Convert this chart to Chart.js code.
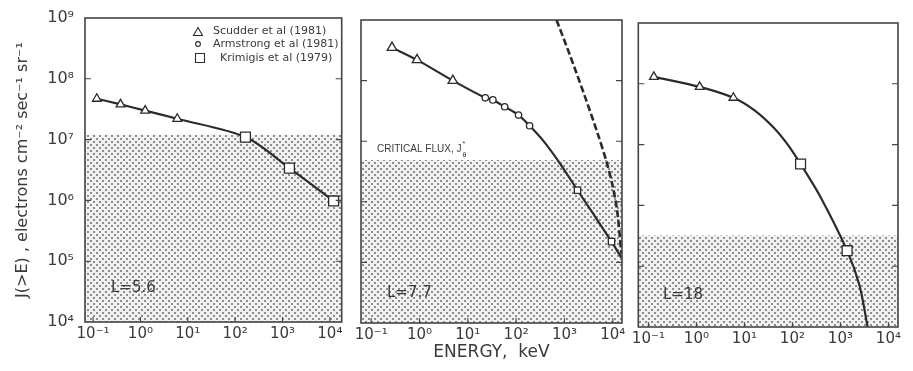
<!DOCTYPE html>
<html>
<head>
<meta charset="utf-8">
<script src="https://cdn.jsdelivr.net/npm/chart.js@4.4.0/dist/chart.umd.min.js"></script>
<style>
  html, body { margin: 0; padding: 0; background: #fff; }
  #wrap { position: relative; width: 913px; height: 371px; }
  canvas { position: absolute; top: 0; }
</style>
</head>
<body>
<div id="wrap">
  <canvas id="p1" width="350" height="371" style="left:0"></canvas>
  <canvas id="p2" width="280" height="371" style="left:350px"></canvas>
  <canvas id="p3" width="283" height="371" style="left:630px"></canvas>
</div>
<script>
"use strict";

// decade ticks, keV and electrons cm-2 sec-1 sr-1
const xTickValues = [0.1, 1, 10, 100, 1000, 10000];
const yTickValues = [1e4, 1e5, 1e6, 1e7, 1e8, 1e9];

// L = 5.6
const p1ScudderE = [0.12, 0.38, 1.26, 6.0];
const p1ScudderJ = [4.7e7, 3.8e7, 3.0e7, 2.2e7];
const p1KrimigisE = [165, 1400, 12000];
const p1KrimigisJ = [1.1e7, 3.4e6, 9.8e5];
const p1CurveE = [0.12, 0.38, 1.26, 6.0, 165, 1400, 12000];
const p1CurveJ = [4.7e7, 3.8e7, 3.0e7, 2.2e7, 1.1e7, 3.4e6, 9.8e5];
const p1Critical = 1.2e7;

// L = 7.7
const p2ScudderE = [0.27, 0.89, 4.9];
const p2ScudderJ = [3.5e8, 2.2e8, 1.0e8];
const p2ArmstrongE = [23, 33, 58, 112, 190];
const p2ArmstrongJ = [5.2e7, 4.8e7, 3.7e7, 2.7e7, 1.8e7];
const p2KrimigisE = [1860, 9400];
const p2KrimigisJ = [1.55e6, 2.2e5];
const p2CurveE = [0.27, 0.89, 4.9, 23, 33, 58, 112, 190, 352, 790, 1860, 3800, 9400, 15000];
const p2CurveJ = [3.5e8, 2.2e8, 1.0e8, 5.2e7, 4.8e7, 3.7e7, 2.7e7, 1.8e7, 1.05e7, 4.4e6, 1.55e6, 6.6e5, 2.2e5, 1.2e5];
const p2DashE = [684, 1260, 2800, 4800, 7400, 9800, 12300, 15000];
const p2DashJ = [1e9, 2.8e8, 4.8e7, 1.38e7, 4.6e6, 1.9e6, 7.1e5, 1.4e5];
const p2Critical = 4.9e6;

// L = 18
const p3ScudderE = [0.13, 1.17, 5.9];
const p3ScudderJ = [1.3e8, 8.9e7, 5.9e7];
const p3KrimigisE = [148, 1380];
const p3KrimigisJ = [4.8e6, 1.8e5];
const p3CurveE = [0.13, 1.17, 5.9, 16, 41, 80, 148, 380, 1380, 2500, 3700];
const p3CurveJ = [1.3e8, 8.9e7, 5.9e7, 3.7e7, 1.9e7, 1.0e7, 4.8e6, 1.4e6, 1.8e5, 4.8e4, 1e4];
const p3Critical = 3.2e5;

const INK = "#2b2b2b";
const TEXT = "#3a3a3a";
const FONT = "'DejaVu Sans', sans-serif";
const SUP = { "-": "\u207B", "0": "\u2070", "1": "\u00B9", "2": "\u00B2", "3": "\u00B3",
              "4": "\u2074", "5": "\u2075", "6": "\u2076", "7": "\u2077", "8": "\u2078", "9": "\u2079" };

function pairs(xs, ys) {
  return xs.map((x, i) => ({ x: x, y: ys[i] }));
}

function decadeLabel(value) {
  let exp = String(Math.round(Math.log10(value)));
  return "10" + exp.split("").map(c => SUP[c]).join("");
}

function stipple() {
  let c = document.createElement("canvas");
  c.width = 6;
  c.height = 6;
  let g = c.getContext("2d");
  g.fillStyle = "#f1f1f1";
  g.fillRect(0, 0, 6, 6);
  g.fillStyle = "#8e8e8e";
  g.fillRect(0, 0, 2, 2);
  g.fillRect(3, 3, 2, 2);
  return g.createPattern(c, "repeat");
}
const DOTS = stipple();

function criticalSet(level, xMin, xMax) {
  return {
    type: "line",
    data: [{ x: xMin, y: level }, { x: xMax, y: level }],
    fill: "start",
    backgroundColor: DOTS,
    borderWidth: 0,
    pointRadius: 0,
    order: 5
  };
}

function curveSet(xs, ys, dash) {
  return {
    type: "line",
    data: pairs(xs, ys),
    borderColor: INK,
    borderWidth: dash ? 2.6 : 2.2,
    borderDash: dash ? [7, 3] : [],
    tension: 0.3,
    pointRadius: 0,
    fill: false,
    order: 3
  };
}

function markerSet(xs, ys, style, radius) {
  return {
    type: "scatter",
    data: pairs(xs, ys),
    pointStyle: style,
    pointRadius: radius,
    pointBackgroundColor: "#fff",
    pointBorderColor: INK,
    pointBorderWidth: 1.3,
    order: 1
  };
}

// frame and inward decade ticks on every side
const framePlugin = {
  id: "frame",
  afterDatasetsDraw(chart) {
    const { ctx, chartArea: a, scales } = chart;
    ctx.save();
    ctx.strokeStyle = "#444";
    ctx.lineWidth = 1.6;
    ctx.strokeRect(a.left, a.top, a.right - a.left, a.bottom - a.top);
    ctx.lineWidth = 1.1;
    ctx.beginPath();
    scales.x.ticks.forEach(t => {
      let px = scales.x.getPixelForValue(t.value);
      ctx.moveTo(px, a.bottom);
      ctx.lineTo(px, a.bottom - 5);
    });
    scales.y.ticks.forEach(t => {
      let py = scales.y.getPixelForValue(t.value);
      if (py <= a.top + 1 || py >= a.bottom - 1) return;
      ctx.moveTo(a.left, py);
      ctx.lineTo(a.left + 6, py);
      ctx.moveTo(a.right, py);
      ctx.lineTo(a.right - 6, py);
    });
    ctx.stroke();
    ctx.restore();
  }
};

// free text inside the panels (canvas pixels)
const notesPlugin = {
  id: "notes",
  afterDraw(chart, args, opts) {
    const ctx = chart.ctx;
    ctx.save();
    ctx.fillStyle = TEXT;
    ctx.textBaseline = "middle";
    ctx.textAlign = "left";
    (opts.items || []).forEach(n => {
      ctx.font = n.font;
      ctx.fillText(n.text, n.x, n.y);
      let end = n.x + ctx.measureText(n.text).width + 1;
      if (n.sup) {
        ctx.font = n.supFont;
        ctx.fillText(n.sup, end, n.y - 5);
      }
      if (n.sub) {
        ctx.font = n.supFont;
        ctx.fillText(n.sub, end, n.y + 6);
      }
    });
    (opts.symbols || []).forEach(s => {
      ctx.beginPath();
      if (s.shape === "triangle") {
        ctx.moveTo(s.x, s.y - 4.5);
        ctx.lineTo(s.x + 4.5, s.y + 3.5);
        ctx.lineTo(s.x - 4.5, s.y + 3.5);
        ctx.closePath();
      } else if (s.shape === "circle") {
        ctx.arc(s.x, s.y, 2.4, 0, Math.PI * 2);
      } else {
        ctx.rect(s.x - 4.5, s.y - 4.5, 9, 9);
      }
      ctx.strokeStyle = INK;
      ctx.lineWidth = 1.1;
      ctx.stroke();
    });
    ctx.restore();
  }
};

function logAxis(min, max, values, opts) {
  return {
    type: "logarithmic",
    position: opts.position,
    min: min,
    max: max,
    afterBuildTicks: s => { s.ticks = values.map(v => ({ value: v })); },
    afterFit: s => {
      if (opts.position === "bottom") s.height = opts.size; else s.width = opts.size;
      s.paddingLeft = 0; s.paddingRight = 0; s.paddingTop = 0; s.paddingBottom = 0;
    },
    grid: { display: false },
    border: { display: false },
    ticks: {
      display: opts.labels,
      autoSkip: false,
      maxRotation: 0,
      padding: opts.tickPad,
      color: TEXT,
      font: { family: FONT, size: opts.fontSize },
      callback: v => decadeLabel(v)
    },
    title: opts.title || { display: false }
  };
}

function makePanel(id, cfg) {
  return new Chart(document.getElementById(id), {
    data: { datasets: cfg.datasets },
    options: {
      responsive: false,
      animation: false,
      layout: { padding: cfg.padding },
      scales: {
        x: logAxis(cfg.xMin, cfg.xMax, xTickValues,
                   { position: "bottom", size: cfg.xHeight, labels: true, tickPad: -5, fontSize: 15, title: cfg.xTitle }),
        y: logAxis(1e4, 1e9, yTickValues,
                   { position: "left", size: cfg.yWidth, labels: cfg.yLabels, tickPad: 3, fontSize: 16, title: cfg.yTitle })
      },
      plugins: {
        legend: { display: false },
        tooltip: { enabled: false },
        notes: { items: cfg.notes, symbols: cfg.symbols || [] }
      }
    },
    plugins: [framePlugin, notesPlugin]
  });
}

const p1xMin = Math.pow(10, -1.17), p1xMax = Math.pow(10, 4.25);
const p2xMin = Math.pow(10, -1.21), p2xMax = Math.pow(10, 4.19);
const p3xMin = Math.pow(10, -1.21), p3xMax = Math.pow(10, 4.2);

makePanel("p1", {
  xMin: p1xMin, xMax: p1xMax,
  padding: { left: 0, top: 18, right: 5, bottom: 0 },
  xHeight: 49, yWidth: 85, yLabels: true,
  yTitle: {
    display: true,
    text: "J(>E) , electrons cm\u207B\u00B2 sec\u207B\u00B9 sr\u207B\u00B9",
    color: TEXT,
    font: { family: FONT, size: 16 },
    padding: { top: 13, bottom: 0 }
  },
  datasets: [
    criticalSet(p1Critical, p1xMin, p1xMax),
    curveSet(p1CurveE, p1CurveJ, false),
    markerSet(p1ScudderE, p1ScudderJ, "triangle", 5),
    markerSet(p1KrimigisE, p1KrimigisJ, "rect", 7)
  ],
  notes: [
    { text: "L=5.6", x: 111, y: 288, font: "15px " + FONT },
    { text: "Scudder et al (1981)", x: 213, y: 31, font: "11px " + FONT },
    { text: "Armstrong et al (1981)", x: 213, y: 44, font: "11px " + FONT },
    { text: "Krimigis et al (1979)", x: 220, y: 58, font: "11px " + FONT }
  ],
  symbols: [
    { shape: "triangle", x: 198, y: 32 },
    { shape: "circle", x: 198, y: 44 },
    { shape: "rect", x: 200, y: 58 }
  ]
});

makePanel("p2", {
  xMin: p2xMin, xMax: p2xMax,
  padding: { left: 11, top: 20, right: 8, bottom: 0 },
  xHeight: 48, yWidth: 0, yLabels: false,
  xTitle: {
    display: true,
    text: "ENERGY,  keV",
    color: TEXT,
    font: { family: FONT, size: 17 },
    padding: { top: 0, bottom: 8 }
  },
  datasets: [
    criticalSet(p2Critical, p2xMin, p2xMax),
    curveSet(p2CurveE, p2CurveJ, false),
    curveSet(p2DashE, p2DashJ, true),
    markerSet(p2ScudderE, p2ScudderJ, "triangle", 5.5),
    markerSet(p2ArmstrongE, p2ArmstrongJ, "circle", 3.2),
    markerSet(p2KrimigisE, p2KrimigisJ, "rect", 4.5)
  ],
  notes: [
    { text: "L=7.7", x: 37, y: 293, font: "15px " + FONT },
    { text: "CRITICAL FLUX, J", x: 27, y: 149, font: "10px 'Liberation Sans', sans-serif",
      sup: "*", sub: "\u03B8", supFont: "7px 'Liberation Sans', sans-serif" }
  ]
});

makePanel("p3", {
  xMin: p3xMin, xMax: p3xMax,
  padding: { left: 6, top: 23, right: 15, bottom: 0 },
  xHeight: 44, yWidth: 0, yLabels: false,
  datasets: [
    criticalSet(p3Critical, p3xMin, p3xMax),
    curveSet(p3CurveE, p3CurveJ, false),
    markerSet(p3ScudderE, p3ScudderJ, "triangle", 5),
    markerSet(p3KrimigisE, p3KrimigisJ, "rect", 7)
  ],
  notes: [
    { text: "L=18", x: 33, y: 295, font: "15px " + FONT }
  ]
});
</script>
</body>
</html>
